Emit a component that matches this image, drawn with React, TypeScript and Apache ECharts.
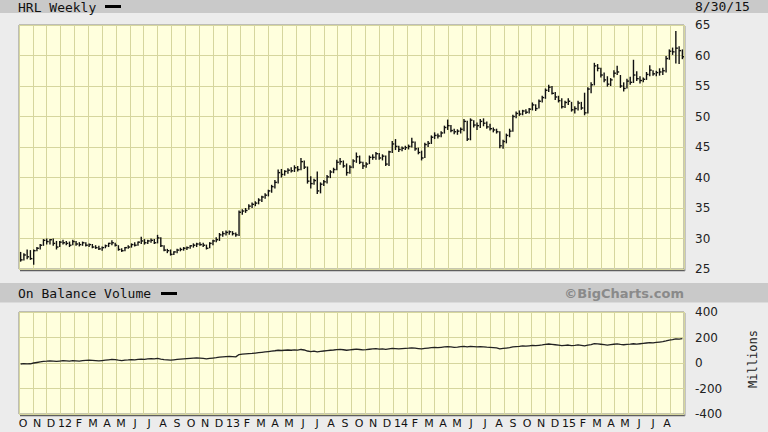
import React, { useEffect, useRef } from "react";
import * as echarts from "echarts";

// Weekly HLC data (Oct 2011 – Aug 2015)
const HIGH = [
  27.8, 27.6, 28.2, 28.1, 28.2, 28.6, 29.1, 29.9, 30.0, 29.9,
  30.0, 29.6, 29.6, 29.8, 29.6, 29.5, 29.8, 29.6, 29.4, 29.5,
  29.4, 29.2, 29.1, 28.9, 28.8, 28.7, 29.0, 29.3, 29.7, 29.3,
  28.9, 28.4, 28.6, 28.9, 29.2, 29.4, 29.5, 30.3, 29.9, 29.8,
  30.0, 29.9, 30.6, 30.2, 28.9, 28.3, 28.2, 27.9, 28.3, 28.5,
  28.6, 28.7, 28.9, 29.2, 29.3, 29.4, 29.3, 29.0, 29.4, 29.8,
  30.2, 30.9, 31.2, 31.3, 31.3, 31.2, 31.0, 34.6, 34.8, 35.0,
  35.6, 35.9, 36.1, 36.6, 37.0, 37.4, 38.0, 38.8, 39.6, 41.3,
  41.4, 41.2, 41.5, 41.7, 42.0, 41.9, 43.2, 42.8, 41.8, 40.2,
  39.8, 41.0, 39.2, 39.6, 40.4, 41.2, 41.6, 42.9, 43.2, 42.8,
  42.3, 42.0, 43.0, 44.1, 43.6, 42.6, 42.5, 43.6, 43.8, 44.2,
  44.0, 43.8, 43.6, 44.4, 46.0, 46.3, 45.2, 45.1, 45.2, 45.4,
  46.5, 45.9, 44.9, 44.4, 45.7, 46.0, 46.9, 47.4, 47.2, 47.6,
  48.5, 49.5, 48.6, 48.0, 47.9, 48.2, 49.6, 49.3, 49.7,
  49.4, 49.0, 49.6, 49.7, 49.2, 48.8, 48.2, 48.0, 47.6, 46.2,
  47.2, 48.0, 50.3, 50.8, 51.0, 51.1, 51.2, 51.4, 52.3, 52.0,
  52.8, 53.4, 54.6, 55.2, 55.0, 54.0, 53.4, 53.0, 52.6, 53.0,
  52.4, 51.7, 52.6, 52.4, 53.9, 54.8, 55.6, 58.8, 58.6, 58.0,
  57.2, 56.6, 56.3, 57.6, 58.3, 56.8, 55.6, 56.2, 56.5, 59.3,
  57.4, 56.6, 56.4, 57.3, 58.4, 57.6, 57.5, 57.9, 58.0, 59.9,
  61.0, 61.3, 64.0, 61.5, 61.0,
];
const LOW = [
  26.2, 26.4, 26.6, 26.5, 25.7, 27.9, 28.2, 28.8, 29.0, 29.0,
  28.8, 28.2, 28.6, 29.0, 28.9, 28.6, 28.9, 28.8, 28.7, 28.8,
  28.7, 28.6, 28.4, 28.3, 28.1, 28.0, 28.4, 28.6, 28.9, 28.7,
  28.0, 27.8, 27.9, 28.3, 28.5, 28.7, 28.8, 29.1, 29.0, 29.1,
  29.3, 29.1, 29.2, 28.6, 27.9, 27.6, 27.2, 27.3, 27.6, 27.9,
  28.0, 28.1, 28.3, 28.5, 28.6, 28.8, 28.6, 28.2, 28.4, 28.9,
  29.4, 29.6, 30.3, 30.5, 30.6, 30.5, 30.3, 30.4, 33.9, 34.2,
  34.7, 35.0, 35.3, 35.6, 36.0, 36.5, 36.9, 37.5, 38.2, 39.0,
  40.0, 40.3, 40.6, 40.8, 40.9, 41.0, 41.2, 41.4, 39.0, 38.2,
  38.8, 37.3, 37.4, 38.6, 39.0, 39.9, 40.7, 41.2, 42.1, 41.6,
  40.3, 40.6, 41.5, 42.4, 42.2, 41.4, 41.6, 42.2, 42.9, 42.9,
  42.9, 42.8, 41.9, 41.9, 44.0, 44.5, 44.2, 44.3, 44.5, 44.6,
  44.9, 44.4, 43.8, 42.8, 43.2, 45.0, 45.5, 46.3, 46.4, 46.6,
  47.2, 47.8, 47.4, 47.1, 47.0, 47.2, 47.6, 46.0, 46.1,
  48.2, 47.8, 48.1, 48.4, 48.0, 47.7, 47.4, 47.2, 44.8, 44.7,
  45.6, 46.6, 47.5, 49.7, 50.1, 50.2, 50.4, 50.5, 51.0, 50.9,
  51.3, 52.3, 52.9, 54.0, 53.6, 52.7, 52.3, 51.3, 51.4, 51.9,
  50.8, 50.5, 51.0, 51.1, 50.2, 50.5, 53.8, 55.1, 57.4, 56.4,
  55.6, 54.9, 55.0, 56.4, 56.8, 54.7, 54.1, 54.6, 55.2, 55.5,
  55.8, 55.4, 55.6, 56.0, 56.6, 56.7, 56.6, 56.7, 56.8, 57.2,
  59.3, 60.1, 58.7, 58.6, 59.4,
];
const CLOSE = [
  26.5, 27.3, 27.0, 26.7, 28.0, 28.4, 28.9, 29.7, 29.5, 29.8,
  29.2, 28.6, 29.4, 29.3, 29.2, 28.9, 29.5, 29.1, 29.0, 29.3,
  28.9, 29.0, 28.6, 28.5, 28.3, 28.5, 28.8, 29.2, 29.3, 28.9,
  28.2, 28.0, 28.5, 28.6, 29.0, 28.9, 29.4, 29.6, 29.3, 29.6,
  29.7, 29.3, 30.1, 28.8, 28.1, 28.0, 27.4, 27.8, 28.1, 28.2,
  28.4, 28.5, 28.8, 28.9, 29.1, 29.0, 28.9, 28.4, 29.2, 29.6,
  29.8, 30.6, 30.8, 31.0, 31.1, 30.8, 30.6, 34.3, 34.5, 34.6,
  35.3, 35.6, 35.8, 36.3, 36.8, 37.1, 37.8, 38.5, 39.2, 40.8,
  40.5, 41.0, 41.2, 41.1, 41.6, 41.3, 42.6, 41.7, 39.4, 39.0,
  39.5, 37.8, 38.9, 39.3, 40.1, 40.9, 41.3, 42.5, 42.6, 41.9,
  40.8, 41.7, 42.7, 43.4, 42.5, 41.9, 42.2, 43.3, 43.3, 43.9,
  43.2, 43.5, 42.2, 44.2, 45.5, 45.1, 44.6, 44.8, 44.9, 45.1,
  45.8, 44.7, 44.1, 43.2, 45.4, 45.6, 46.6, 46.9, 46.8, 47.3,
  48.2, 48.5, 47.7, 47.5, 47.6, 47.9, 49.2, 46.3, 49.4,
  48.6, 48.5, 49.2, 48.9, 48.3, 48.0, 47.8, 47.5, 45.2, 45.9,
  46.9, 47.6, 50.0, 50.5, 50.4, 50.9, 50.7, 51.2, 51.9, 51.3,
  52.5, 53.1, 54.3, 54.8, 53.8, 53.2, 52.6, 51.6, 52.3, 52.5,
  51.1, 51.3, 52.2, 51.4, 50.6, 54.5, 55.2, 58.3, 57.9, 56.8,
  56.0, 55.3, 56.0, 57.1, 57.3, 55.0, 54.6, 55.8, 55.6, 56.8,
  56.2, 55.9, 56.1, 56.9, 57.6, 57.0, 57.2, 57.3, 57.5, 59.5,
  60.7, 60.6, 61.2, 60.8, 59.8,
];
// On Balance Volume, millions
const OBV = [
  -8, -5, -7, -6, 0, 4, 8, 12, 14, 17, 15, 12, 15,
  18, 17, 15, 18, 17, 15, 18, 20, 22, 20, 18, 16,
  19, 22, 25, 28, 26, 22, 19, 22, 24, 27, 25, 28,
  31, 29, 32, 34, 32, 36, 31, 27, 25, 22,
  25, 28, 30, 32, 34, 36, 38, 40, 38, 36, 33, 36, 39,
  42, 46, 48, 50, 52, 50, 48, 66, 69, 71,
  73, 75, 78, 81, 84, 87, 90, 93, 96, 100, 98, 100, 102, 100, 103, 101, 106,
  102, 94, 90, 93, 87, 91, 94, 97, 100, 102, 105, 107, 104,
  100, 103, 106, 109, 106, 103, 105, 108, 110, 112, 109, 111, 107, 111, 115, 113, 110,
  112, 114, 116, 119, 116, 113, 110, 114, 117, 120, 122, 120, 123, 126, 129, 126, 123, 125, 128, 131, 126, 130,
  128, 126, 129, 127, 124, 122, 120, 118, 111, 114, 117, 120,
  126, 129, 131, 134, 132, 135, 138, 136, 139, 142, 146, 149, 146,
  143, 140, 137, 139, 141, 137, 139, 142, 139, 134, 140, 144,
  152, 150, 147, 144, 141, 144, 147, 150, 146, 143, 146, 148, 151, 148, 151,
  154, 157, 160, 158, 161, 164, 167, 173, 180, 183, 190, 188, 192,
];
const MONTH_LABELS = [
  "O", "N", "D",
  "12", "F", "M", "A", "M", "J", "J", "A", "S", "O", "N", "D",
  "13", "F", "M", "A", "M", "J", "J", "A", "S", "O", "N", "D",
  "14", "F", "M", "A", "M", "J", "J", "A", "S", "O", "N", "D",
  "15", "F", "M", "A", "M", "J", "J", "A",
];
const PRICE_TICKS = { min: 25, max: 65, step: 5 };
const OBV_TICKS = { min: -400, max: 400, step: 200 };

const WEEKS = CLOSE.map((_, i) => {
  const d = new Date(Date.UTC(2011, 9, 7 + i * 7));
  return d.toISOString().slice(0, 10);
});
const LABEL_START = 0.29;
const LABEL_STEP = 1.0105;
const LABEL_POS = MONTH_LABELS.map((_, i) => +(LABEL_START + i * LABEL_STEP).toFixed(4));

const PLOT_BG = "#ffffdd";
const GRID_LINE = "#d6d69e";
const BORDER = "#8f8f80";
const SHADOW = "#5e5e5e";
const PAGE_BG = "#ececec";
const BAR_BG = "#c9c9c9";
const MONO = "DejaVu Sans Mono";
const SANS = "DejaVu Sans";

export default function App() {
  const ref = useRef<HTMLDivElement>(null);
  useEffect(() => {
    if (!ref.current) return;
    const chart = echarts.init(ref.current, null, { renderer: "svg" });
    const barData = CLOSE.map((c, i) => [i, HIGH[i], LOW[i], c]);
    const splitLine = { show: true, lineStyle: { color: GRID_LINE, width: 1 } };
    const textStyle = (align: string) => ({ textAlign: align, textVerticalAlign: "middle", align, verticalAlign: "middle" });
    const option: any = {
      animation: false,
      backgroundColor: PAGE_BG,
      grid: [
        { left: 19, top: 25, width: 665, height: 244, show: true, backgroundColor: PLOT_BG, borderColor: BORDER, borderWidth: 1 },
        { left: 19, top: 312, width: 665, height: 102, show: true, backgroundColor: PLOT_BG, borderColor: BORDER, borderWidth: 1 },
      ],
      xAxis: [
        { type: "category", gridIndex: 0, data: WEEKS, show: false, boundaryGap: true, position: "top" },
        {
          type: "value", gridIndex: 0, min: 0, max: 48, interval: 1, position: "bottom",
          axisLine: { show: false }, axisTick: { show: false }, axisLabel: { show: false }, splitLine,
        },
        { type: "category", gridIndex: 1, data: WEEKS, show: false, boundaryGap: true, position: "top" },
        {
          type: "value", gridIndex: 1, min: 0, max: 48, interval: 1, position: "bottom",
          axisLine: { show: false }, axisTick: { show: false }, splitLine,
          axisLabel: {
            show: true,
            customValues: LABEL_POS,
            margin: 4,
            fontFamily: SANS,
            fontSize: 11,
            color: "#111",
            formatter: (v: number) => {
              const i = Math.round((v - LABEL_START) / LABEL_STEP);
              return MONTH_LABELS[i] ?? "";
            },
          },
        },
      ],
      yAxis: [
        {
          type: "value", gridIndex: 0, position: "right",
          min: PRICE_TICKS.min, max: PRICE_TICKS.max, interval: PRICE_TICKS.step,
          axisLine: { show: false }, axisTick: { show: false }, splitLine,
          axisLabel: { margin: 11, fontFamily: SANS, fontSize: 12, color: "#222" },
        },
        {
          type: "value", gridIndex: 1, position: "right",
          min: OBV_TICKS.min, max: OBV_TICKS.max, interval: OBV_TICKS.step,
          axisLine: { show: false }, axisTick: { show: false }, splitLine,
          axisLabel: { margin: 11, fontFamily: SANS, fontSize: 12, color: "#222" },
        },
      ],
      series: [
        {
          type: "custom",
          xAxisIndex: 0,
          yAxisIndex: 0,
          clip: true,
          encode: { x: 0, y: [1, 2, 3] },
          data: barData,
          renderItem: (params: any, api: any) => {
            const x = api.value(0);
            const hi = api.coord([x, api.value(1)]);
            const lo = api.coord([x, api.value(2)]);
            const cl = api.coord([x, api.value(3)]);
            const st = { stroke: "#111", lineWidth: 1.4 };
            return {
              type: "group",
              children: [
                { type: "line", shape: { x1: hi[0], y1: hi[1], x2: lo[0], y2: lo[1] }, style: st },
                { type: "line", shape: { x1: cl[0], y1: cl[1], x2: cl[0] + 2, y2: cl[1] }, style: st },
              ],
            };
          },
        },
        {
          type: "line",
          xAxisIndex: 2,
          yAxisIndex: 1,
          data: OBV,
          symbol: "none",
          lineStyle: { color: "#222", width: 1.3 },
        },
      ],
      graphic: [
        { type: "rect", shape: { x: 0, y: 0, width: 768, height: 13 }, style: { fill: BAR_BG } },
        { type: "text", x: 18, y: 7, style: { text: "HRL Weekly", font: `13px ${MONO}`, fill: "#111", ...textStyle("left") } },
        { type: "rect", shape: { x: 105, y: 5, width: 16, height: 3 }, style: { fill: "#000" } },
        { type: "text", x: 695, y: 6, style: { text: "8/30/15", font: `13px ${MONO}`, fill: "#111", ...textStyle("left") } },
        { type: "rect", shape: { x: 0, y: 283, width: 768, height: 19.5 }, style: { fill: BAR_BG } },
        { type: "text", x: 18, y: 293, style: { text: "On Balance Volume", font: `13px ${MONO}`, fill: "#111", ...textStyle("left") } },
        { type: "rect", shape: { x: 161, y: 292, width: 16, height: 3 }, style: { fill: "#000" } },
        { type: "text", x: 684, y: 293, style: { text: "©BigCharts.com", font: `bold 13px ${SANS}`, fill: "#8a8a8a", ...textStyle("right") } },
        { type: "text", x: 753, y: 359, rotation: Math.PI / 2, style: { text: "Millions", font: `12px ${MONO}`, fill: "#222", ...textStyle("center") } },
        // plot shadows (bottom and right edges)
        { type: "line", shape: { x1: 20, y1: 270.5, x2: 685, y2: 270.5 }, style: { stroke: SHADOW, lineWidth: 1.5 } },
        { type: "line", shape: { x1: 685, y1: 26, x2: 685, y2: 271 }, style: { stroke: "#9a9a9a", lineWidth: 1 } },
        { type: "line", shape: { x1: 20, y1: 415.5, x2: 685, y2: 415.5 }, style: { stroke: SHADOW, lineWidth: 1.5 } },
        { type: "line", shape: { x1: 685, y1: 313, x2: 685, y2: 416 }, style: { stroke: "#9a9a9a", lineWidth: 1 } },
      ],
    };
    chart.setOption(option);
    return () => chart.dispose();
  }, []);
  return <div ref={ref} style={{ position: "fixed", left: 0, top: 0, width: 768, height: 432 }} />;
}
